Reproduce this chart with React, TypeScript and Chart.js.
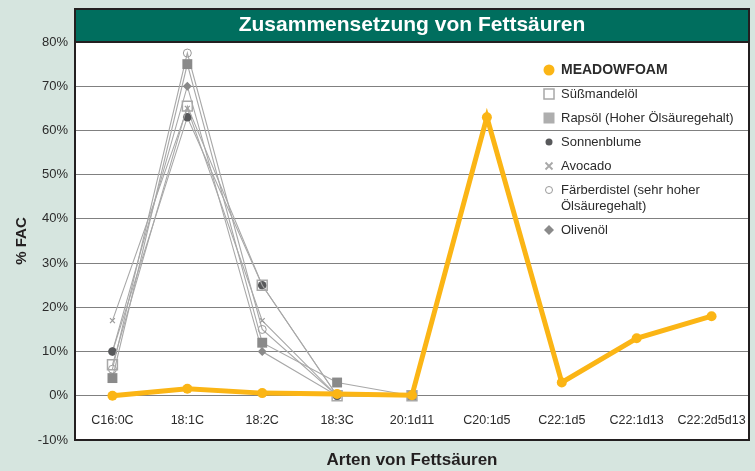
import React, { useEffect, useRef } from 'react';
import { Chart, registerables } from 'chart.js';

Chart.register(...registerables);

const categories = ['C16:0C', '18:1C', '18:2C', '18:3C', '20:1d11', 'C20:1d5', 'C22:1d5', 'C22:1d13', 'C22:2d5d13'];

const meadowfoam = [0, 1.6, 0.6, 0.4, 0.1, 63, 3, 13, 18];
const suessmandeloel = [7, 65.5, 25, 0, 0, null, null, null, null];
const rapsoel = [4, 75, 12, 3, 0, null, null, null, null];
const sonnenblume = [10, 63, 25, 0, 0, null, null, null, null];
const avocado = [17, 65, 17, 0, 0, null, null, null, null];
const faerberdistel = [6, 77.5, 15, 0, 0, null, null, null, null];
const olivenoel = [10, 70, 10, 0, 0, null, null, null, null];

const seriesLabels = [
  'MEADOWFOAM',
  'Süßmandelöl',
  'Rapsöl (Hoher Ölsäuregehalt)',
  'Sonnenblume',
  'Avocado',
  'Färberdistel (sehr hoher Ölsäuregehalt)',
  'Olivenöl',
];

const yTicksMin = -10;
const yTicksMax = 80;
const yStep = 10;

const chartTitle = 'Zusammensetzung von Fettsäuren';
const xTitle = 'Arten von Fettsäuren';
const yTitle = '% FAC';

const FONT = '"Liberation Sans", Arial, Helvetica, sans-serif';
const ORANGE = '#fbb515';
const GRAY_LINE = '#a8a8a8';
const TEXT = '#2b2b2b';
const GREEN = '#006e5e';
const PAGE_BG = '#d6e5df';

export default function App() {
  const ref = useRef<HTMLCanvasElement | null>(null);

  useEffect(() => {
    const canvas = ref.current;
    if (!canvas) return;

    const framePlugin = {
      id: 'frameBg',
      beforeDraw(chart: any) {
        const { ctx, chartArea: a } = chart;
        ctx.save();
        ctx.fillStyle = '#ffffff';
        ctx.fillRect(a.left, a.top, a.right - a.left, a.bottom - a.top);
        ctx.fillStyle = GREEN;
        ctx.fillRect(a.left, 9, a.right - a.left, a.top - 9);
        ctx.restore();
      },
      afterDraw(chart: any) {
        const { ctx, chartArea: a } = chart;
        ctx.save();
        ctx.strokeStyle = '#231f20';
        ctx.lineWidth = 2;
        ctx.strokeRect(a.left, 9, a.right - a.left, a.bottom - 9);
        ctx.beginPath();
        ctx.moveTo(a.left, a.top);
        ctx.lineTo(a.right, a.top);
        ctx.stroke();
        ctx.restore();
      },
    };

    const legendPlugin = {
      id: 'customLegend',
      afterDraw(chart: any) {
        const { ctx, chartArea: a } = chart;
        const mx = a.right - 200;
        const tx = a.right - 188;
        const maxW = 178;
        let y = 70;
        ctx.save();
        chart.data.datasets.forEach((ds: any, i: number) => {
          const bold = i === 0;
          ctx.font = `${bold ? 'bold ' : ''}${bold ? 14 : 13}px ${FONT}`;
          ctx.fillStyle = TEXT;
          ctx.textBaseline = 'middle';
          ctx.textAlign = 'left';
          const words = String(ds.label).split(' ');
          const lines: string[] = [];
          let cur = '';
          words.forEach((w) => {
            const t = cur ? cur + ' ' + w : w;
            if (ctx.measureText(t).width > maxW && cur) {
              lines.push(cur);
              cur = w;
            } else cur = t;
          });
          if (cur) lines.push(cur);
          lines.forEach((ln, k) => ctx.fillText(ln, tx, y + k * 16));

          const st = ds.pointStyle;
          ctx.beginPath();
          if (st === 'circle' && i === 0) {
            ctx.fillStyle = ds.pointBackgroundColor;
            ctx.arc(mx, y, 5.5, 0, Math.PI * 2);
            ctx.fill();
          } else if (st === 'circle' && ds.legendOpen) {
            ctx.strokeStyle = ds.pointBorderColor;
            ctx.lineWidth = 1;
            ctx.arc(mx, y, 3.5, 0, Math.PI * 2);
            ctx.stroke();
          } else if (st === 'circle') {
            ctx.fillStyle = ds.pointBackgroundColor;
            ctx.arc(mx, y, 3.5, 0, Math.PI * 2);
            ctx.fill();
          } else if (st === 'rect' && ds.legendOpen) {
            ctx.strokeStyle = ds.pointBorderColor;
            ctx.lineWidth = 1.5;
            ctx.strokeRect(mx - 5, y - 5, 10, 10);
          } else if (st === 'rect') {
            ctx.fillStyle = '#aeaeae';
            ctx.fillRect(mx - 5.5, y - 5.5, 11, 11);
          } else if (st === 'crossRot') {
            ctx.strokeStyle = '#a8a8a8';
            ctx.lineWidth = 1.8;
            ctx.moveTo(mx - 3.5, y - 3.5);
            ctx.lineTo(mx + 3.5, y + 3.5);
            ctx.moveTo(mx + 3.5, y - 3.5);
            ctx.lineTo(mx - 3.5, y + 3.5);
            ctx.stroke();
          } else if (st === 'rectRot') {
            ctx.fillStyle = ds.pointBackgroundColor;
            ctx.moveTo(mx, y - 5);
            ctx.lineTo(mx + 5, y);
            ctx.lineTo(mx, y + 5);
            ctx.lineTo(mx - 5, y);
            ctx.closePath();
            ctx.fill();
          }
          y += 16 * (lines.length - 1) + 24;
        });
        ctx.restore();
      },
    };

    const grayBase = {
      borderColor: GRAY_LINE,
      borderWidth: 1.1,
      tension: 0,
      spanGaps: false,
      fill: false,
    };

    const chart = new Chart(canvas, {
      type: 'line',
      data: {
        labels: categories,
        datasets: [
          {
            label: seriesLabels[0],
            data: meadowfoam,
            borderColor: ORANGE,
            backgroundColor: ORANGE,
            borderWidth: 5,
            pointStyle: 'circle',
            pointRadius: 5,
            pointBackgroundColor: ORANGE,
            pointBorderColor: ORANGE,
            pointBorderWidth: 0,
            tension: 0,
            fill: false,
          },
          {
            ...grayBase,
            label: seriesLabels[1],
            data: suessmandeloel,
            pointStyle: 'rect',
            pointRadius: 7,
            pointBackgroundColor: 'rgba(255,255,255,0)',
            pointBorderColor: '#a8a8a8',
            pointBorderWidth: 1.5,
            legendOpen: true,
          } as any,
          {
            ...grayBase,
            label: seriesLabels[2],
            data: rapsoel,
            pointStyle: 'rect',
            pointRadius: 7,
            pointBackgroundColor: '#8a8a8a',
            pointBorderColor: '#8a8a8a',
            pointBorderWidth: 0,
          },
          {
            ...grayBase,
            label: seriesLabels[3],
            data: sonnenblume,
            pointStyle: 'circle',
            pointRadius: 4.3,
            pointBackgroundColor: '#58595b',
            pointBorderColor: '#58595b',
            pointBorderWidth: 0,
          },
          {
            ...grayBase,
            label: seriesLabels[4],
            data: avocado,
            pointStyle: 'crossRot',
            pointRadius: 3.5,
            pointBackgroundColor: '#9a9a9a',
            pointBorderColor: '#9a9a9a',
            pointBorderWidth: 1.2,
          },
          {
            ...grayBase,
            label: seriesLabels[5],
            data: faerberdistel,
            pointStyle: 'circle',
            pointRadius: 4,
            pointBackgroundColor: 'rgba(255,255,255,0)',
            pointBorderColor: '#9a9a9a',
            pointBorderWidth: 1,
            legendOpen: true,
          } as any,
          {
            ...grayBase,
            label: seriesLabels[6],
            data: olivenoel,
            pointStyle: 'rectRot',
            pointRadius: 4.5,
            pointBackgroundColor: '#8a8a8a',
            pointBorderColor: '#8a8a8a',
            pointBorderWidth: 0,
          },
        ],
      },
      options: {
        responsive: false,
        animation: false,
        devicePixelRatio: 1,
        layout: { autoPadding: false, padding: { left: 8, right: 6, top: 9, bottom: 0 } },
        plugins: {
          legend: { display: false },
          tooltip: { enabled: false },
          title: {
            display: true,
            text: chartTitle,
            color: '#ffffff',
            fullSize: false,
            font: { family: FONT, size: 21, weight: 'bold', lineHeight: 1.2 },
            padding: { top: 4, bottom: 3.8 },
          },
          subtitle: {
            display: true,
            position: 'bottom',
            text: xTitle,
            color: '#231f20',
            fullSize: false,
            font: { family: FONT, size: 17, weight: 'bold', lineHeight: 1.2 },
            padding: { top: 10.6, bottom: 0 },
          },
        },
        scales: {
          x: {
            type: 'category',
            offset: true,
            position: { y: 0 } as any,
            grid: { display: false },
            border: { display: false },
            ticks: {
              color: TEXT,
              font: { family: FONT, size: 12.5 },
              padding: 9,
              maxRotation: 0,
              autoSkip: false,
            },
            afterFit: (scale: any) => {
              scale.paddingLeft = 0;
              scale.paddingRight = 0;
            },
          },
          y: {
            min: yTicksMin,
            max: yTicksMax,
            grid: { color: '#808080', lineWidth: 1, drawTicks: false },
            border: { display: false },
            ticks: {
              stepSize: yStep,
              color: TEXT,
              font: { family: FONT, size: 13 },
              padding: 7,
              callback: (v: any) => `${v}%`,
            },
            title: {
              display: true,
              text: yTitle,
              color: '#231f20',
              font: { family: FONT, size: 15, weight: 'bold', lineHeight: 1.2 },
              padding: { top: 5, bottom: 0 },
            },
            afterFit: (scale: any) => {
              scale.width = 67;
            },
          },
        },
      } as any,
      plugins: [framePlugin, legendPlugin],
    });

    return () => chart.destroy();
  }, []);

  return (
    <div style={{ position: 'fixed', left: 0, top: 0, width: 755, height: 471, background: PAGE_BG }}>
      <canvas ref={ref} width={755} height={471} style={{ display: 'block' }} />
    </div>
  );
}
